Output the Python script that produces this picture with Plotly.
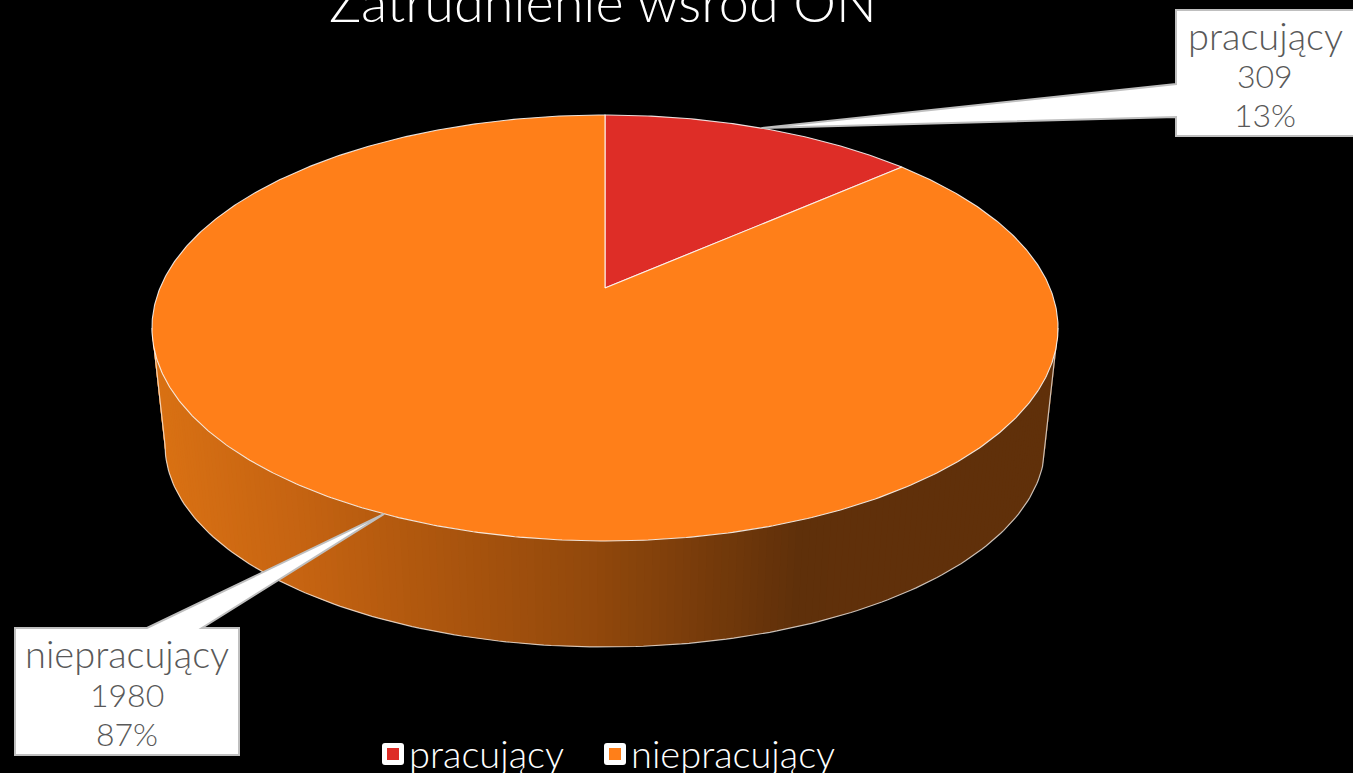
import math
import numpy as np
import plotly.graph_objects as go

# ---- data ----
categories = ["pracujący", "niepracujący"]
values = [309, 1980]
slice_colors = ["#DE2D27", "#FF7F19"]
title_text = "Zatrudnienie wśród ON"

# ---- pie projection (pixel-valued axes) ----
CX, APEX_Y = 605.0, 288.0
A, B, K = 445.0, 205.5, 0.1877      # perspective mapping of the unit disc
TOP_RX, TOP_RY, TOP_CY = 453.0, 213.0, 328.0
BOT_RX, BOT_RY, BOT_CY = 440.0, 202.0, 445.0
SIDE_X = [150, 165, 300, 400, 600, 800, 830, 1060]
SIDE_R = [219, 217, 198, 180, 145, 95, 96, 96]
SIDE_G = [114, 113, 100, 90, 72, 48, 48, 48]
SIDE_B = [20, 20, 18, 15, 12, 10, 10, 10]
EDGE = "rgba(255,255,255,0.85)"


def project(deg):
    """Clockwise angle from 12 o'clock -> screen position on the top face."""
    t = np.radians(deg)
    u, v = np.sin(t), np.cos(t)
    d = 1 + K * v
    return CX + A * u / d, APEX_Y - B * v / d


fig = go.Figure()

# ---- side wall, strips shaded by x ----
theta = np.linspace(0, 180, 181)
tx = CX + TOP_RX * np.cos(np.radians(theta))
ty = TOP_CY + TOP_RY * np.sin(np.radians(theta))
bx = CX + BOT_RX * np.cos(np.radians(theta))
by = BOT_CY + BOT_RY * np.sin(np.radians(theta))
for i in range(len(theta) - 1):
    j = min(i + 2, len(theta) - 1)
    mid = (tx[i] + tx[i + 1] + bx[i] + bx[i + 1]) / 4
    col = "rgb(%d,%d,%d)" % (
        np.interp(mid, SIDE_X, SIDE_R),
        np.interp(mid, SIDE_X, SIDE_G),
        np.interp(mid, SIDE_X, SIDE_B),
    )
    fig.add_trace(go.Scatter(
        x=[tx[i], tx[j], bx[j], bx[i], tx[i]],
        y=[ty[i], ty[j], by[j], by[i], ty[i]],
        mode="lines", fill="toself", fillcolor=col, line=dict(width=0),
        hoverinfo="skip", showlegend=False))
fig.add_trace(go.Scatter(
    x=[tx[0]] + list(bx) + [tx[-1]], y=[ty[0]] + list(by) + [ty[-1]],
    mode="lines", line=dict(color="rgba(255,255,255,0.7)", width=1.2),
    hoverinfo="skip", showlegend=False))

# ---- top face from the values ----
total = sum(values)
start = 0.0
mids = []
for name, val, col in zip(categories, values, slice_colors):
    sweep = val / total * 360
    deg = np.linspace(start, start + sweep, max(int(sweep * 2), 2))
    ax, ay = project(deg)
    fig.add_trace(go.Scatter(
        x=[CX] + list(ax) + [CX], y=[APEX_Y] + list(ay) + [APEX_Y],
        mode="lines", fill="toself", fillcolor=col, name=name,
        line=dict(color=EDGE, width=1.1), hoverinfo="skip", showlegend=False))
    mids.append(start + sweep / 2)
    start += sweep


def callout(x0, y0, x1, y1, side, base_a, base_b, tip):
    if side == "left":
        p = [(x0, y0), (x1, y0), (x1, y1), (x0, y1), (x0, base_b), tip, (x0, base_a)]
    else:
        p = [(x0, y0), (base_a, y0), tip, (base_b, y0), (x1, y0), (x1, y1), (x0, y1)]
    return "M" + " L".join(f"{a:.1f},{b:.1f}" for a, b in p) + " Z"


def rounded(x, y, s, r):
    return (f"M{x+r},{y} L{x+s-r},{y} Q{x+s},{y} {x+s},{y+r} L{x+s},{y+s-r} Q{x+s},{y+s} {x+s-r},{y+s} "
            f"L{x+r},{y+s} Q{x},{y+s} {x},{y+s-r} L{x},{y+r} Q{x},{y} {x+r},{y} Z")


tip0 = tuple(float(c) for c in project(mids[0]))
tip1 = tuple(float(c) for c in project(mids[1]))
BOX = dict(type="path", fillcolor="#FFFFFF", line=dict(color="#BFBFBF", width=2), layer="above")
shapes = [
    dict(BOX, path=callout(1176, 10, 1362, 136, "left", 84, 117, tip0)),
    dict(BOX, path=callout(15, 628, 239, 755, "top", 147, 202, tip1)),
    dict(type="path", path=rounded(382, 743, 22, 3), fillcolor="#FFFFFF", line=dict(width=0), layer="above"),
    dict(type="rect", x0=387, x1=399, y0=748, y1=760, fillcolor=slice_colors[0], line=dict(width=0), layer="above"),
    dict(type="path", path=rounded(604, 743, 22, 3), fillcolor="#FFFFFF", line=dict(width=0), layer="above"),
    dict(type="rect", x0=609, x1=621, y0=748, y1=760, fillcolor=slice_colors[1], line=dict(width=0), layer="above"),
]

FONT = "Lato"
LABEL = dict(family=FONT, size=38, color="#595959", weight=300)
NUM = dict(family=FONT, size=32, color="#595959", weight=300)
WHITE = dict(family=FONT, size=38, color="#FFFFFF", weight=300)
annotations = [dict(x=603, y=1, text=title_text, showarrow=False, xanchor="center", yanchor="middle",
                    font=dict(family=FONT, size=54, color="#FFFFFF", weight=300))]
for cx, ys, name, val in [(1265, (35, 75, 114), categories[0], values[0]),
                          (127, (653, 694, 733), categories[1], values[1])]:
    for y, text, f in zip(ys, (name, str(val), f"{round(val / total * 100)}%"), (LABEL, NUM, NUM)):
        annotations.append(dict(x=cx, y=y, text=text, showarrow=False, xanchor="center",
                                yanchor="middle", font=f))
for x, name in [(409, categories[0]), (631, categories[1])]:
    annotations.append(dict(x=x, y=753, text=name, showarrow=False, xanchor="left", yanchor="middle",
                            xshift=-2, font=WHITE))

fig.update_layout(
    width=1353, height=773, autosize=False,
    margin=dict(l=0, r=0, t=0, b=0),
    paper_bgcolor="#000000", plot_bgcolor="#000000",
    xaxis=dict(range=[0, 1353], visible=False, fixedrange=True),
    yaxis=dict(range=[773, 0], visible=False, fixedrange=True),
    shapes=shapes, annotations=annotations, showlegend=False,
)
fig.write_html("out.html", config={"displayModeBar": False},
               post_script="document.body.style.margin='0';document.body.style.background='#000';document.body.style.overflow='hidden';")
